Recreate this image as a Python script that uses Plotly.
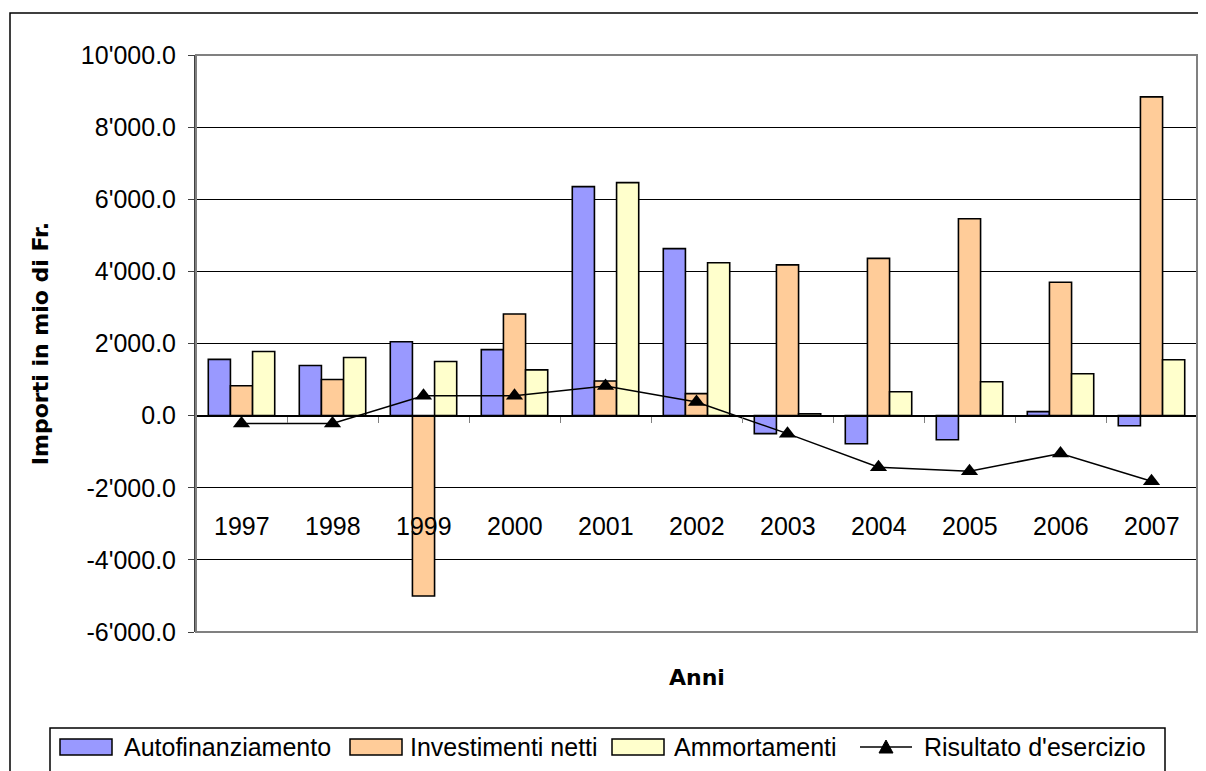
import plotly.graph_objects as go

anni = ["1997", "1998", "1999", "2000", "2001", "2002", "2003", "2004", "2005", "2006", "2007"]
autofinanziamento = [1560, 1390, 2050, 1830, 6350, 4630, -500, -780, -670, 110, -280]
investimenti_netti = [830, 1000, -5000, 2820, 960, 610, 4180, 4360, 5460, 3700, 8840]
ammortamenti = [1780, 1610, 1500, 1270, 6460, 4240, 50, 660, 940, 1160, 1550]
risultato = [-220, -220, 550, 550, 820, 380, -500, -1430, -1540, -1050, -1820]

y_tickvals = [-6000, -4000, -2000, 0, 2000, 4000, 6000, 8000, 10000]
y_ticktext = ["-6'000.0", "-4'000.0", "-2'000.0", "0.0", "2'000.0", "4'000.0", "6'000.0", "8'000.0", "10'000.0"]

series_names = ["Autofinanziamento", "Investimenti netti", "Ammortamenti", "Risultato d'esercizio"]
bar_colors = ["#9999FF", "#FFCC99", "#FFFFCC"]

FONT = "Liberation Sans, Arial, sans-serif"
BOLD = "DejaVu Sans, Verdana, sans-serif"
OFF = 8  # page body margin
W, H = 1206 - OFF, 771 - OFF
ML, MR, MT, MB = 196 - OFF, 9, 55 - OFF, 139
PW, PH = W - ML - MR, H - MT - MB


def px(x):
    # page x pixel -> paper fraction
    return (x - OFF - ML) / PW


def py(y):
    # page y pixel -> paper fraction
    return (H - MB - (y - OFF)) / PH


outline = dict(color="black", width=1.6)

fig = go.Figure()
for name, vals, col in zip(series_names[:3], [autofinanziamento, investimenti_netti, ammortamenti], bar_colors):
    fig.add_trace(go.Bar(x=anni, y=vals, name=name, marker=dict(color=col, line=outline)))
fig.add_trace(go.Scatter(x=anni, y=risultato, name=series_names[3], mode="lines+markers",
                         line=dict(color="black", width=1.5),
                         marker=dict(symbol="triangle-up", size=15, color="black")))

# year labels placed inside the plot below the -2000 line
for i, a in enumerate(anni):
    fig.add_annotation(x=i, y=-3050, xref="x", yref="y", text=a, showarrow=False,
                       yanchor="middle", font=dict(family=FONT, size=25, color="black"))

# outer chart frame
fig.add_shape(type="rect", xref="paper", yref="paper",
              x0=px(10), x1=px(1230), y0=py(800), y1=py(13),
              line=dict(color="black", width=1.5), fillcolor="rgba(0,0,0,0)", layer="below")
# plot area border
fig.add_shape(type="rect", xref="paper", yref="paper", x0=0, x1=1, y0=0, y1=1,
              line=dict(color="#808080", width=2), fillcolor="rgba(0,0,0,0)")

# legend (drawn manually to reproduce the wide swatches of the reference)
fig.add_shape(type="rect", xref="paper", yref="paper",
              x0=px(50), x1=px(1165), y0=py(800), y1=py(728),
              line=dict(color="black", width=1.5), fillcolor="white")
sw_x = [60, 350, 612]
tx_x = [122, 408, 672, 922]
for sx, col in zip(sw_x, bar_colors):
    fig.add_shape(type="rect", xref="paper", yref="paper",
                  x0=px(sx), x1=px(sx + 52), y0=py(755), y1=py(739),
                  line=dict(color="black", width=1.5), fillcolor=col)
fig.add_shape(type="line", xref="paper", yref="paper",
              x0=px(860), x1=px(912), y0=py(747), y1=py(747),
              line=dict(color="black", width=1.5))
fig.add_shape(type="path", xref="paper", yref="paper",
              path=f"M {px(879)} {py(753)} L {px(893)} {py(753)} L {px(886)} {py(740)} Z",
              line=dict(color="black", width=1), fillcolor="black")
for t, name in zip(tx_x, series_names):
    fig.add_annotation(x=px(t), y=py(747), xref="paper", yref="paper", text=name,
                       xanchor="left", yanchor="middle", showarrow=False,
                       font=dict(family=FONT, size=25, color="black"))

fig.update_layout(
    width=W, height=H,
    margin=dict(l=ML, r=MR, t=MT, b=MB, autoexpand=False),
    paper_bgcolor="white", plot_bgcolor="white",
    barmode="group", bargap=0.27, bargroupgap=0,
    font=dict(family=FONT, size=25, color="black"),
    showlegend=False,
    xaxis=dict(type="category", range=[-0.5, 10.5], anchor="free", position=0.375, showgrid=False,
               showticklabels=False, ticks="outside", tickson="boundaries", ticklen=6,
               tickcolor="#808080", showline=True, linecolor="black", linewidth=1,
               title=None, fixedrange=True, automargin=False),
    yaxis=dict(range=[-6000, 10000], tickvals=y_tickvals, ticktext=y_ticktext,
               showgrid=True, gridcolor="black", gridwidth=1, zeroline=False,
               ticks="outside", ticklen=6, tickcolor="#404040", ticklabelstandoff=7,
               showline=True, linecolor="#404040", linewidth=2, automargin=False,
               tickfont=dict(family=FONT, size=25, color="black"),
               title=dict(text="<b>Importi in mio di Fr.</b>", standoff=26,
                          font=dict(family=BOLD, size=22, color="black"))),
)

fig.add_annotation(x=0.5, y=py(677), xref="paper", yref="paper", text="<b>Anni</b>",
                   yanchor="middle", showarrow=False, font=dict(family=BOLD, size=22, color="black"))

fig.write_html("out.html")
